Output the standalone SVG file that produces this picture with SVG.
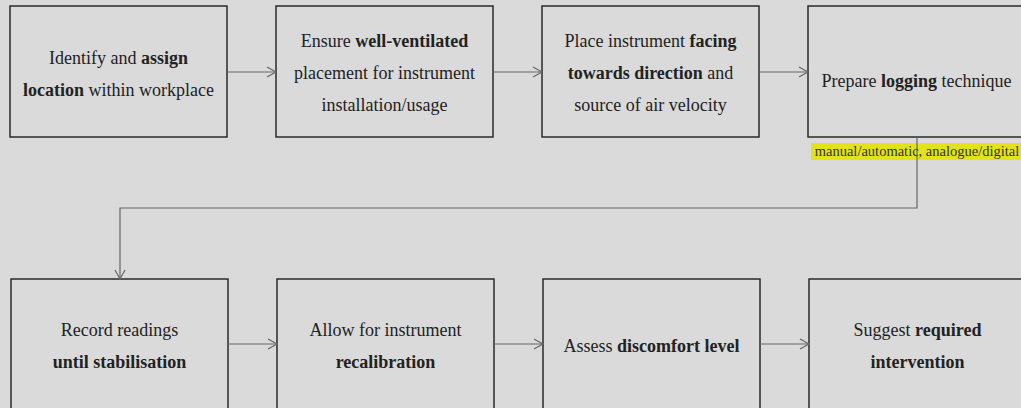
<svg xmlns="http://www.w3.org/2000/svg" width="1021" height="408" viewBox="0 0 1021 408">
  <style>
    .box { fill: #dadada; stroke: #2a2a2a; stroke-width: 1.5; }
    .t { font-family: 'Liberation Serif', Tinos, 'DejaVu Serif', 'Noto Serif', serif; font-size: 18px; fill: #222; text-anchor: middle; }
    .b { font-weight: bold; }
    .edge { fill: none; stroke: #666; stroke-width: 1.2; }
    .note { font-family: 'Liberation Serif', Tinos, 'DejaVu Serif', 'Noto Serif', serif; font-size: 14.5px; fill: #333; text-anchor: middle; }
  </style>
  <defs>
    <marker id="arrow" markerWidth="12" markerHeight="12" refX="10" refY="6" orient="auto" markerUnits="userSpaceOnUse">
      <path d="M1,1 L10,6 L1,11" fill="none" stroke="#666" stroke-width="1.2"/>
    </marker>
  </defs>

  <rect x="0" y="0" width="1021" height="408" fill="#dadada"/>

  <!-- top row -->
  <g id="node-identify">
    <rect class="box" x="10" y="6" width="217" height="131"/>
    <text class="t" x="118.5" y="64">Identify and <tspan class="b">assign</tspan></text>
    <text class="t" x="118.5" y="96"><tspan class="b">location</tspan> within workplace</text>
  </g>
  <g id="node-ventilated">
    <rect class="box" x="276" y="6" width="217" height="131"/>
    <text class="t" x="384.5" y="47">Ensure <tspan class="b">well-ventilated</tspan></text>
    <text class="t" x="384.5" y="79">placement for instrument</text>
    <text class="t" x="384.5" y="111">installation/usage</text>
  </g>
  <g id="node-facing">
    <rect class="box" x="542" y="6" width="217" height="131"/>
    <text class="t" x="650.5" y="47">Place instrument <tspan class="b">facing</tspan></text>
    <text class="t" x="650.5" y="79"><tspan class="b">towards direction</tspan> and</text>
    <text class="t" x="650.5" y="111">source of air velocity</text>
  </g>
  <g id="node-logging">
    <rect class="box" x="808" y="6" width="217" height="131"/>
    <text class="t" x="916.5" y="87">Prepare <tspan class="b">logging</tspan> technique</text>
  </g>

  <!-- bottom row -->
  <g id="node-record">
    <rect class="box" x="11" y="279" width="217" height="135"/>
    <text class="t" x="119.5" y="336">Record readings</text>
    <text class="t b" x="119.5" y="368">until stabilisation</text>
  </g>
  <g id="node-recalibration">
    <rect class="box" x="277" y="279" width="217" height="135"/>
    <text class="t" x="385.5" y="336">Allow for instrument</text>
    <text class="t b" x="385.5" y="368">recalibration</text>
  </g>
  <g id="node-assess">
    <rect class="box" x="543" y="279" width="217" height="135"/>
    <text class="t" x="651.5" y="352">Assess <tspan class="b">discomfort level</tspan></text>
  </g>
  <g id="node-intervention">
    <rect class="box" x="809" y="279" width="217" height="135"/>
    <text class="t" x="917.5" y="336">Suggest <tspan class="b">required</tspan></text>
    <text class="t b" x="917.5" y="368">intervention</text>
  </g>

  <g id="connectors">
    <rect x="811" y="143" width="212" height="17" fill="#e3e31c"/>
    <line class="edge" x1="227" y1="72" x2="276" y2="72" marker-end="url(#arrow)"/>
    <line class="edge" x1="493" y1="72" x2="542" y2="72" marker-end="url(#arrow)"/>
    <line class="edge" x1="759" y1="72" x2="808" y2="72" marker-end="url(#arrow)"/>
    <path class="edge" d="M917,137 V208 H120 V279" marker-end="url(#arrow)"/>
    <line class="edge" x1="228" y1="344" x2="277" y2="344" marker-end="url(#arrow)"/>
    <line class="edge" x1="494" y1="344" x2="543" y2="344" marker-end="url(#arrow)"/>
    <line class="edge" x1="760" y1="344" x2="809" y2="344" marker-end="url(#arrow)"/>
    <text class="note" x="917" y="156">manual/automatic, analogue/digital</text>
  </g>
</svg>
